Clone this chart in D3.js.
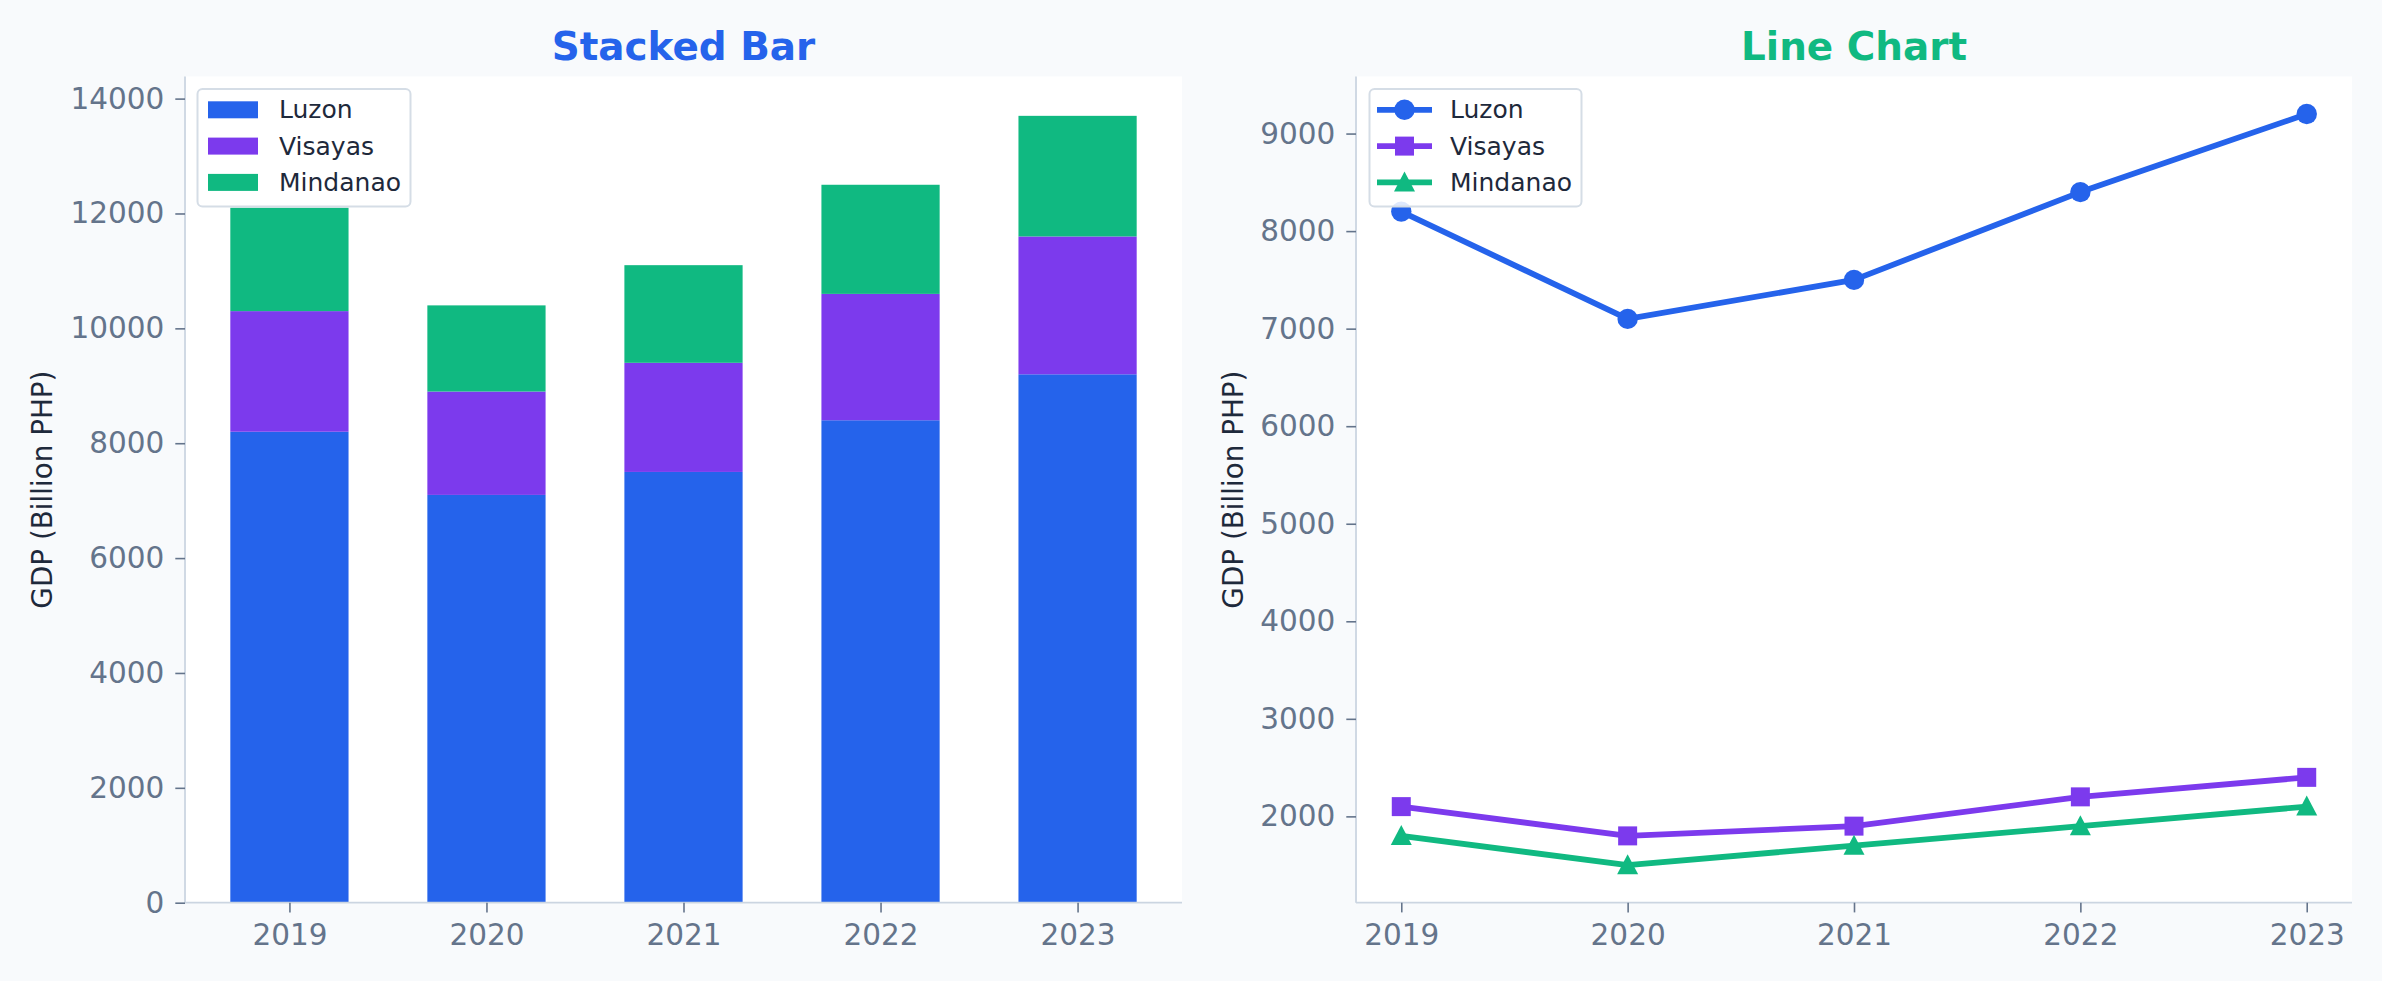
<!DOCTYPE html>
<html>
<head>
<meta charset="utf-8">
<script src="https://cdnjs.cloudflare.com/ajax/libs/d3/7.8.5/d3.min.js"></script>
<style>
  html, body { margin: 0; padding: 0; background: #f8fafc; }
  svg { display: block; }
  text { font-family: "DejaVu Sans", sans-serif; }
</style>
</head>
<body>
<script>
// data
var years = [2019, 2020, 2021, 2022, 2023];
var regions = ["Luzon", "Visayas", "Mindanao"];
var luzon = [8200, 7100, 7500, 8400, 9200];
var visayas = [2100, 1800, 1900, 2200, 2400];
var mindanao = [1800, 1500, 1700, 1900, 2100];
var barTicks = [0, 2000, 4000, 6000, 8000, 10000, 12000, 14000];
var lineTicks = [2000, 3000, 4000, 5000, 6000, 7000, 8000, 9000];

var colors = { Luzon: "#2563eb", Visayas: "#7c3aed", Mindanao: "#10b981" };
var shapes = { Luzon: "circle", Visayas: "square", Mindanao: "triangle" };
var seriesVals = { Luzon: luzon, Visayas: visayas, Mindanao: mindanao };

var W = 2382, H = 981;
var tickColor = "#64748b", spineColor = "#cbd5e1", textDark = "#1e293b";

var svg = d3.select("body").append("svg")
  .attr("width", W).attr("height", H);
svg.append("rect").attr("width", W).attr("height", H).attr("fill", "#f8fafc");

// panel boxes
var p1 = { left: 185, right: 1182, top: 76.5, bottom: 902.7 };
var p2 = { left: 1356, right: 2352, top: 76.5, bottom: 902.7 };

function styleAxis(g) {
  g.select(".domain").remove();
  g.selectAll(".tick line").attr("stroke", tickColor).attr("stroke-width", 1.6);
  g.selectAll(".tick text").attr("fill", tickColor)
    .style("font-size", "29.5px").style("font-family", "DejaVu Sans");
}

function frame(p, title, titleColor) {
  svg.append("rect").attr("x", p.left).attr("y", p.top)
    .attr("width", p.right - p.left).attr("height", p.bottom - p.top)
    .attr("fill", "#ffffff");
  svg.append("text")
    .attr("x", (p.left + p.right) / 2).attr("y", 60)
    .attr("text-anchor", "middle")
    .attr("fill", titleColor)
    .style("font-size", "38.9px").style("font-weight", "bold")
    .text(title);
}

function spines(p) {
  svg.append("line").attr("x1", p.left).attr("x2", p.left)
    .attr("y1", p.top).attr("y2", p.bottom)
    .attr("stroke", spineColor).attr("stroke-width", 1.8);
  svg.append("line").attr("x1", p.left).attr("x2", p.right)
    .attr("y1", p.bottom).attr("y2", p.bottom)
    .attr("stroke", spineColor).attr("stroke-width", 1.8);
}

function ylabel(x, p) {
  svg.append("text")
    .attr("transform", "translate(" + x + "," + ((p.top + p.bottom) / 2) + ") rotate(-90)")
    .attr("text-anchor", "middle")
    .attr("fill", textDark)
    .style("font-size", "27.8px")
    .text("GDP (Billion PHP)");
}

function markerPath(shape) {
  if (shape === "circle") return d3.symbol(d3.symbolCircle, Math.PI * 10.2 * 10.2)();
  if (shape === "square") return d3.symbol(d3.symbolSquare, 19 * 19)();
  return "M0,-11L10.5,9L-10.5,9Z";
}

// ---------- Stacked bar ----------
frame(p1, "Stacked Bar", "#2563eb");

var stackData = years.map(function(y, i) {
  return { year: y, Luzon: luzon[i], Visayas: visayas[i], Mindanao: mindanao[i] };
});
var stacked = d3.stack().keys(regions)(stackData);

var xb = d3.scaleLinear().domain([-0.53, 4.53]).range([p1.left, p1.right]);
var yb = d3.scaleLinear().domain([0, 14385]).range([p1.bottom, p1.top]);
var barW = xb(0.6) - xb(0);

var g1 = svg.append("g");
stacked.forEach(function(layer) {
  g1.append("g").attr("fill", colors[layer.key])
    .selectAll("rect").data(layer).enter().append("rect")
    .attr("x", function(d, i) { return xb(i) - barW / 2; })
    .attr("y", function(d) { return yb(d[1]); })
    .attr("width", barW)
    .attr("height", function(d) { return yb(d[0]) - yb(d[1]); });
});

spines(p1);

var yAx1 = svg.append("g").attr("transform", "translate(" + p1.left + ",0)")
  .call(d3.axisLeft(yb).tickValues(barTicks).tickFormat(d3.format("d")).tickSize(9.7).tickPadding(11));
styleAxis(yAx1);

var xAx1 = svg.append("g").attr("transform", "translate(0," + p1.bottom + ")")
  .call(d3.axisBottom(xb).tickValues([0, 1, 2, 3, 4]).tickFormat(function(d) { return years[d]; }).tickSize(9.7));
styleAxis(xAx1);
xAx1.selectAll(".tick text").attr("y", 42.3).attr("dy", 0);

ylabel(51.5, p1);

// legend (bar)
var lg1 = svg.append("g");
lg1.append("rect").attr("x", 197.5).attr("y", 89).attr("width", 213).attr("height", 117.5)
  .attr("rx", 5).attr("fill", "#ffffff").attr("fill-opacity", 0.85)
  .attr("stroke", "#d5dde6").attr("stroke-width", 2);
regions.forEach(function(r, i) {
  var cy = 109.8 + i * 36.3;
  lg1.append("rect").attr("x", 208).attr("y", cy - 8.5).attr("width", 50).attr("height", 17)
    .attr("fill", colors[r]);
  lg1.append("text").attr("x", 279).attr("y", cy).attr("dy", "0.34em")
    .attr("fill", textDark).style("font-size", "25px").text(r);
});

// ---------- Line chart ----------
frame(p2, "Line Chart", "#10b981");

var xl = d3.scaleLinear().domain([2018.8, 2023.2]).range([p2.left, p2.right]);
var yl = d3.scaleLinear().domain([1115, 9585]).range([p2.bottom, p2.top]);

var line = d3.line()
  .x(function(d, i) { return xl(years[i]); })
  .y(function(d) { return yl(d); });

var g2 = svg.append("g");
regions.forEach(function(r) {
  var vals = seriesVals[r];
  g2.append("path").datum(vals)
    .attr("d", line)
    .attr("fill", "none")
    .attr("stroke", colors[r])
    .attr("stroke-width", 5.8)
    .attr("stroke-linejoin", "round")
    .attr("stroke-linecap", "round");
  g2.selectAll(".m-" + r).data(vals).enter().append("path")
    .attr("class", "m-" + r)
    .attr("d", markerPath(shapes[r]))
    .attr("transform", function(d, i) { return "translate(" + xl(years[i]) + "," + yl(d) + ")"; })
    .attr("fill", colors[r]);
});

spines(p2);

var yAx2 = svg.append("g").attr("transform", "translate(" + p2.left + ",0)")
  .call(d3.axisLeft(yl).tickValues(lineTicks).tickFormat(d3.format("d")).tickSize(9.7).tickPadding(11));
styleAxis(yAx2);

var xAx2 = svg.append("g").attr("transform", "translate(0," + p2.bottom + ")")
  .call(d3.axisBottom(xl).tickValues(years).tickFormat(d3.format("d")).tickSize(9.7));
styleAxis(xAx2);
xAx2.selectAll(".tick text").attr("y", 42.3).attr("dy", 0);

ylabel(1242.5, p2);

// legend (line)
var lg2 = svg.append("g");
lg2.append("rect").attr("x", 1369.5).attr("y", 89).attr("width", 212).attr("height", 117.5)
  .attr("rx", 5).attr("fill", "#ffffff").attr("fill-opacity", 0.85)
  .attr("stroke", "#d5dde6").attr("stroke-width", 2);
regions.forEach(function(r, i) {
  var cy = 109.8 + i * 36.3;
  lg2.append("line").attr("x1", 1377).attr("x2", 1432).attr("y1", cy).attr("y2", cy)
    .attr("stroke", colors[r]).attr("stroke-width", 5.8);
  lg2.append("path").attr("d", markerPath(shapes[r]))
    .attr("transform", "translate(1404.5," + cy + ")")
    .attr("fill", colors[r]);
  lg2.append("text").attr("x", 1450).attr("y", cy).attr("dy", "0.34em")
    .attr("fill", textDark).style("font-size", "25px").text(r);
});
</script>
</body>
</html>
